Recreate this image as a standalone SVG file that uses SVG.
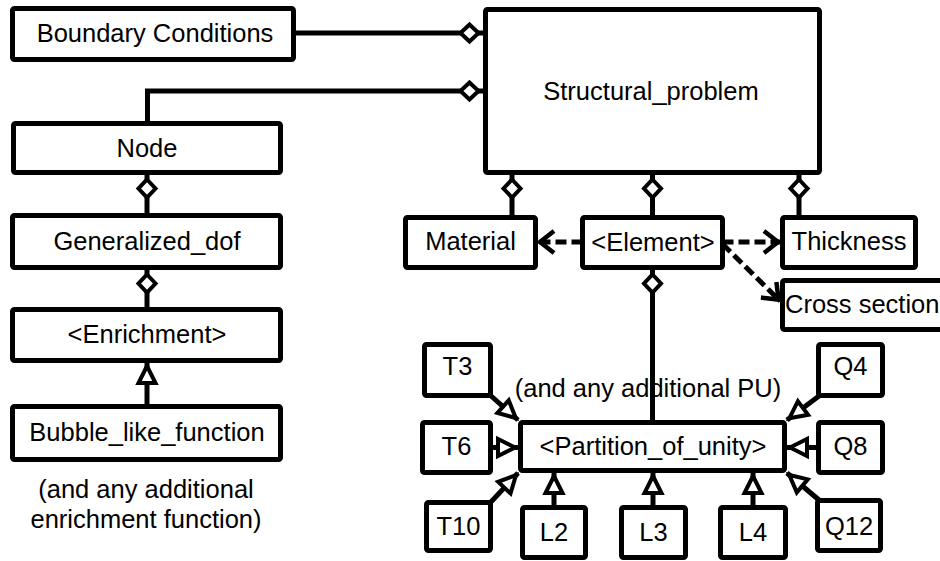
<svg xmlns="http://www.w3.org/2000/svg" width="940" height="561" viewBox="0 0 940 561">
<style>
.box{fill:#fff;stroke:#000;stroke-width:5;stroke-linejoin:round}
.t{font-family:"Liberation Sans",Arial,sans-serif;font-size:25.5px;fill:#000;text-anchor:middle}
.ln{fill:none;stroke:#000;stroke-width:5}
.dash{fill:none;stroke:#000;stroke-width:5;stroke-dasharray:11 5}
</style>
<defs>
<marker id="dia" markerUnits="userSpaceOnUse" markerWidth="40" markerHeight="30" refX="0" refY="0" orient="auto" overflow="visible">
<path d="M7,0 L16,-8.5 L25,0 L16,8.5 Z" fill="#fff" stroke="#000" stroke-width="4" stroke-linejoin="miter"/>
</marker>
<marker id="tri" markerUnits="userSpaceOnUse" markerWidth="30" markerHeight="30" refX="0" refY="0" orient="auto" overflow="visible">
<path d="M-3,0 L-20,-8.5 L-20,8.5 Z" fill="#fff" stroke="#000" stroke-width="4" stroke-linejoin="miter"/>
</marker>
<marker id="chev" markerUnits="userSpaceOnUse" markerWidth="30" markerHeight="30" refX="0" refY="0" orient="auto" overflow="visible">
<path d="M-16,-11 L-2,0 L-16,11" fill="none" stroke="#000" stroke-width="4.5" stroke-dasharray="none"/>
</marker>
</defs>

<g id="connectors">
<path class="ln" d="M485.5,33 H293.5" marker-start="url(#dia)"/>
<path class="ln" d="M485.5,91 H147.5 V123.5" marker-start="url(#dia)"/>
<path class="ln" d="M147,172.5 V215.5" marker-start="url(#dia)"/>
<path class="ln" d="M147,267.5 V309.5" marker-start="url(#dia)"/>
<path class="ln" d="M147,406.5 V363" marker-end="url(#tri)"/>
<path class="ln" d="M512,172.5 V217.5" marker-start="url(#dia)"/>
<path class="ln" d="M652.5,172.5 V217.5" marker-start="url(#dia)"/>
<path class="ln" d="M799,172.5 V217.5" marker-start="url(#dia)"/>
<path class="ln" d="M652.5,267.5 V422.5" marker-start="url(#dia)"/>
<path class="dash" d="M582.5,242 H538" marker-end="url(#chev)"/>
<path class="dash" d="M722.5,242 H780" marker-end="url(#chev)"/>
<path class="dash" d="M722.5,244 L780,301" marker-end="url(#chev)"/>
<path class="ln" d="M490,395 L518,420" marker-end="url(#tri)"/>
<path class="ln" d="M493,447.5 H518" marker-end="url(#tri)"/>
<path class="ln" d="M490,503 L518,473" marker-end="url(#tri)"/>
<path class="ln" d="M554,507.5 V473" marker-end="url(#tri)"/>
<path class="ln" d="M653,507.5 V473" marker-end="url(#tri)"/>
<path class="ln" d="M753,507.5 V473" marker-end="url(#tri)"/>
<path class="ln" d="M819,396 L787,420" marker-end="url(#tri)"/>
<path class="ln" d="M818.5,447.5 H787" marker-end="url(#tri)"/>
<path class="ln" d="M819,500 L787,473" marker-end="url(#tri)"/>
</g>

<g id="boundary"><rect class="box" x="12.5" y="8.5" width="281" height="51" rx="2"/><text class="t" x="155" y="42">Boundary Conditions</text></g>
<g id="structural"><rect class="box" x="485.5" y="9.5" width="334" height="163" rx="2"/><text class="t" x="651" y="100">Structural_problem</text></g>
<g id="node"><rect class="box" x="13.5" y="123.5" width="267" height="49" rx="2"/><text class="t" x="147" y="157">Node</text></g>
<g id="gendof"><rect class="box" x="12.5" y="215.5" width="268" height="52" rx="2"/><text class="t" x="147" y="250">Generalized_dof</text></g>
<g id="enrichment"><rect class="box" x="12.5" y="309.5" width="268" height="51" rx="2"/><text class="t" x="147" y="343">&lt;Enrichment&gt;</text></g>
<g id="bubble"><rect class="box" x="12.5" y="406.5" width="268" height="53" rx="2"/><text class="t" x="147" y="441">Bubble_like_function</text></g>
<g id="enrich-note"><text class="t" x="146" y="498">(and any additional</text><text class="t" x="146" y="528">enrichment function)</text></g>
<g id="material"><rect class="box" x="405.5" y="217.5" width="130" height="50" rx="2"/><text class="t" x="470.5" y="250">Material</text></g>
<g id="element"><rect class="box" x="582.5" y="217.5" width="140" height="50" rx="2"/><text class="t" x="653" y="251">&lt;Element&gt;</text></g>
<g id="thickness"><rect class="box" x="782.5" y="217.5" width="133" height="50" rx="2"/><text class="t" x="849" y="250">Thickness</text></g>
<g id="cross"><rect class="box" x="782.5" y="280.5" width="200" height="49" rx="2"/><text class="t" x="785" y="313" style="text-anchor:start">Cross section</text></g>
<g id="pu-note"><text class="t" x="648" y="397">(and any additional PU)</text></g>
<g id="partition"><rect class="box" x="520.5" y="422.5" width="264" height="48" rx="2"/><text class="t" x="653" y="455">&lt;Partition_of_unity&gt;</text></g>
<g id="T3"><rect class="box" x="424.5" y="344.5" width="66" height="51" rx="2"/><text class="t" x="457.5" y="375">T3</text></g>
<g id="T6"><rect class="box" x="422.5" y="422.5" width="68" height="50" rx="2"/><text class="t" x="456.5" y="455">T6</text></g>
<g id="T10"><rect class="box" x="426.5" y="502.5" width="64" height="48" rx="2"/><text class="t" x="458.5" y="535">T10</text></g>
<g id="L2"><rect class="box" x="522.5" y="507.5" width="63" height="50" rx="2"/><text class="t" x="554" y="541">L2</text></g>
<g id="L3"><rect class="box" x="621.5" y="507.5" width="64" height="50" rx="2"/><text class="t" x="653.5" y="541">L3</text></g>
<g id="L4"><rect class="box" x="720.5" y="507.5" width="65" height="50" rx="2"/><text class="t" x="753" y="541">L4</text></g>
<g id="Q4"><rect class="box" x="818.5" y="344.5" width="64" height="51" rx="2"/><text class="t" x="850.5" y="375">Q4</text></g>
<g id="Q8"><rect class="box" x="818.5" y="422.5" width="64" height="50" rx="2"/><text class="t" x="850.5" y="455">Q8</text></g>
<g id="Q12"><rect class="box" x="817.5" y="500.5" width="63" height="50" rx="2"/><text class="t" x="849" y="535">Q12</text></g>
</svg>
